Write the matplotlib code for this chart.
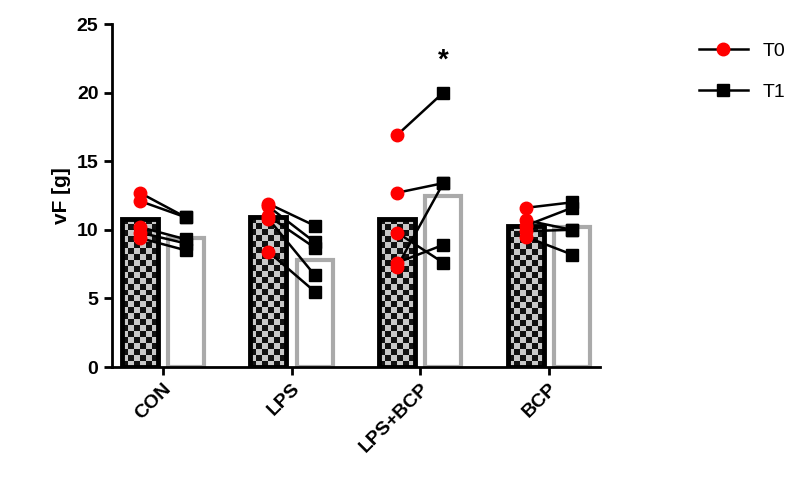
import matplotlib
matplotlib.use("Agg")
import matplotlib.pyplot as plt
import numpy as np
from matplotlib.lines import Line2D

plt.rcParams['font.family'] = ['Liberation Sans', 'DejaVu Sans']

groups = ["CON", "LPS", "LPS+BCP", "BCP"]
mean_t0 = [10.8, 10.9, 10.8, 10.3]
mean_t1 = [9.4, 7.8, 12.5, 10.2]
t0 = [[12.7, 12.1, 10.2, 9.8, 9.4],
      [11.9, 11.7, 11.0, 10.8, 8.4],
      [16.9, 12.7, 9.8, 7.6, 7.3],
      [11.6, 10.7, 10.3, 9.9, 9.5]]
t1 = [[10.9, 10.9, 9.3, 9.0, 8.5],
      [10.3, 9.1, 8.7, 6.7, 5.5],
      [20.0, 13.4, 7.6, 8.9, 13.4],
      [12.0, 10.0, 11.6, 10.0, 8.2]]

fig = plt.figure(figsize=(7.97, 4.90), dpi=100)
ax = fig.add_axes([0.14, 0.251, 0.613, 0.70])
w = 0.28
off = 0.18
x = np.arange(len(groups))

cmap = matplotlib.colors.ListedColormap(['#111111', '#c8c8c8'])
for i in range(len(groups)):
    b = ax.bar(x[i] - off, mean_t0[i], w, facecolor='none', edgecolor='black', linewidth=3.5, zorder=2)[0]
    nrows = int(round(mean_t0[i] * 13.7 / 6))
    checker = np.indices((nrows, 6)).sum(axis=0) % 2
    im = ax.imshow(checker, cmap=cmap,
                   extent=(x[i] - off - w / 2, x[i] - off + w / 2, 0, mean_t0[i]),
                   aspect='auto', interpolation='nearest', zorder=1)
    im.set_clip_path(b)
    ax.bar(x[i] + off, mean_t1[i], w, facecolor='white', edgecolor='#aaaaaa', linewidth=3, zorder=1)
    for a, c in zip(t0[i], t1[i]):
        ax.plot([x[i] - off, x[i] + off], [a, c], color='black', lw=1.8, zorder=3)
    ax.plot([x[i] - off] * len(t0[i]), t0[i], 'o', color='red', ms=9, zorder=4)
    ax.plot([x[i] + off] * len(t1[i]), t1[i], 's', color='black', ms=9, zorder=4)

ax.text(x[2] + off, 22.3, '*', ha='center', va='center', fontsize=20, fontweight='bold')

ax.set_xlim(-0.4, 3.4)
ax.set_ylim(0, 25)
ax.set_yticks([0, 5, 10, 15, 20, 25])
ax.set_xticks(x)
ax.set_xticklabels(groups, rotation=45, ha='right', rotation_mode='anchor', fontsize=14, fontweight='bold')
for lab in ax.get_yticklabels():
    lab.set_fontsize(14); lab.set_fontweight('bold')
ax.set_ylabel('vF [g]', fontsize=15, fontweight='bold')
for s in ['top', 'right']:
    ax.spines[s].set_visible(False)
for s in ['left', 'bottom']:
    ax.spines[s].set_linewidth(2)
ax.tick_params(width=2, length=6)

handles = [Line2D([], [], color='black', marker='o', mfc='red', mec='red', ms=9, lw=1.8),
           Line2D([], [], color='black', marker='s', mfc='black', ms=9, lw=1.8)]
fig.legend(handles, ['T0', 'T1'], loc='upper left', bbox_to_anchor=(0.855, 0.95), frameon=False,
           fontsize=14, handlelength=2.5, labelspacing=1.2)
fig.savefig('out.png', dpi=100)
